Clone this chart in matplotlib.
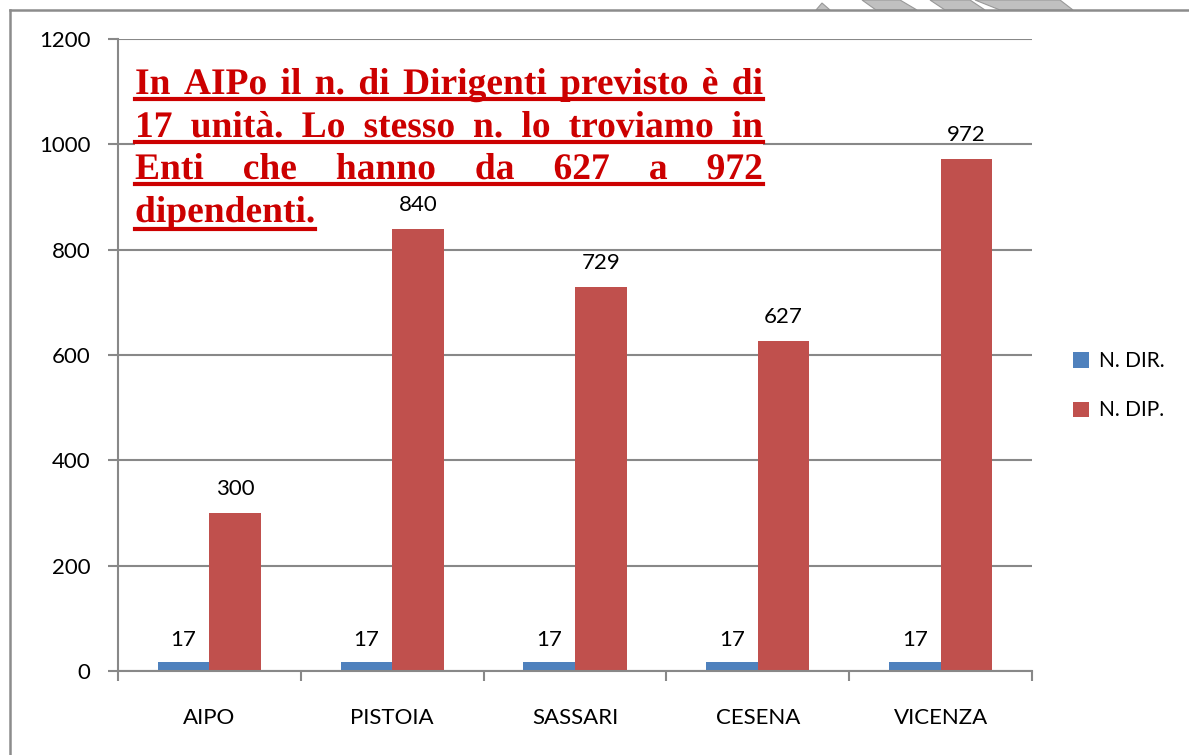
import matplotlib.pyplot as plt
import numpy as np
from matplotlib.transforms import IdentityTransform, Affine2D
from matplotlib.patches import Rectangle, Polygon
from matplotlib.lines import Line2D
from matplotlib.patheffects import AbstractPathEffect

categories = ["AIPO", "PISTOIA", "SASSARI", "CESENA", "VICENZA"]
n_dir = [17, 17, 17, 17, 17]
n_dip = [300, 840, 729, 627, 972]
series_names = ["N. DIR.", "N. DIP."]
yticks = [0, 200, 400, 600, 800, 1000, 1200]

title_lines = [
    "In AIPo il n. di Dirigenti previsto è di",
    "17 unità. Lo stesso n. lo troviamo in",
    "Enti che hanno da 627 a 972",
    "dipendenti.",
]

BLUE = "#4F81BD"
RED = "#C0504D"
GRID = "#888888"
TXT_RED = "#CC0000"

W, H = 1189, 755
plt.rcParams['font.family'] = ['Lato', 'DejaVu Sans']


class HStretch(AbstractPathEffect):
    # squeeze text horizontally around its own origin
    def __init__(self, sx):
        super().__init__()
        self.sx = sx

    def draw_path(self, renderer, gc, tpath, affine, rgbFace=None):
        ox = affine.transform((0, 0))[0]
        aff = affine + Affine2D().translate(-ox, 0).scale(self.sx, 1).translate(ox, 0)
        renderer.draw_path(gc, tpath, aff, rgbFace)


fig = plt.figure(figsize=(W / 100, H / 100), dpi=100)
fig.patch.set_facecolor("white")

# plot area in pixels
px_l, px_r, px_t, px_b = 118, 1032, 39, 671
ax = fig.add_axes([px_l / W, (H - px_b) / H, (px_r - px_l) / W, (px_b - px_t) / H])

x = np.arange(len(categories))
bw = 0.282
ax.bar(x - bw / 2, n_dir, bw, color=BLUE, label=series_names[0], zorder=3)
ax.bar(x + bw / 2, n_dip, bw, color=RED, label=series_names[1], zorder=3)

for xi, v in zip(x, n_dir):
    ax.text(xi - bw / 2, v + 22, str(v), ha="center", va="bottom", fontsize=16, zorder=6)
for xi, v in zip(x, n_dip):
    ax.text(xi + bw / 2, v + 26, str(v), ha="center", va="bottom", fontsize=16, zorder=6)

ax.set_xlim(-0.5, len(categories) - 0.5)
ax.set_ylim(0, 1200)
ax.set_yticks(yticks)
ax.set_yticklabels([str(t) for t in yticks], fontsize=16)
ax.set_xticks(x)
ax.set_xticklabels(categories, fontsize=16)
ax.set_xticks(np.arange(-0.5, len(categories)), minor=True)
ax.tick_params(axis="x", which="major", length=0, pad=27)
ax.tick_params(axis="x", which="minor", length=7, width=1.5, color=GRID, direction="out")
ax.tick_params(axis="y", length=7, width=1.5, color=GRID, pad=13)
ax.yaxis.grid(True, color=GRID, linewidth=1.5, zorder=0)
ax.set_axisbelow(True)
for s in ["top", "right"]:
    ax.spines[s].set_visible(False)
for s in ["left", "bottom"]:
    ax.spines[s].set_color(GRID)
    ax.spines[s].set_linewidth(1.5)
    ax.spines[s].set_zorder(4)

ax.legend(loc="upper left", bbox_to_anchor=(1065 / W, (H - 343) / H), bbox_transform=fig.transFigure,
          frameon=False, fontsize=15, handlelength=0.75, handleheight=0.75, labelspacing=1.4,
          handletextpad=0.5, borderaxespad=0)

# outer frame
fig.add_artist(Line2D([10, 10], [0, H - 10], transform=IdentityTransform(), color="#8c8c8c", linewidth=1.8))
fig.add_artist(Line2D([10, W], [H - 10, H - 10], transform=IdentityTransform(), color="#8c8c8c", linewidth=1.8))
# decorative shapes above the top border
deco = [
    [(816, 10), (822, 3), (830, 10)],
    [(862, 0), (900, 0), (917, 10), (876, 10)],
    [(930, 0), (970, 0), (985, 10), (945, 10)],
    [(975, 0), (1060, 0), (1073, 10), (1000, 10)],
]
for poly in deco:
    fig.add_artist(Polygon([(a, H - b) for a, b in poly], closed=True, transform=IdentityTransform(),
                           facecolor="#c0c0c0", edgecolor="#999999", linewidth=0.8))

# white box behind the note (covers gridlines, not the bars)
ax.add_patch(Rectangle((135, H - 234), 628, 174, transform=IdentityTransform(),
                       facecolor="white", edgecolor="none", zorder=1, clip_on=False))

# justified, underlined note
fig.canvas.draw()
renderer = fig.canvas.get_renderer()
tx_l, tx_r = 135, 763
fs = 27
probe = fig.text(0, 0, title_lines[0], fontsize=fs, family="Liberation Serif", weight="bold")
sx = min(1.0, (tx_r - tx_l) / probe.get_window_extent(renderer).width)
probe.remove()
squeeze = HStretch(sx)

baselines = [94, 137, 179, 222]
ulines = [99, 142, 184, 229]
for i, (line, by, uy) in enumerate(zip(title_lines, baselines, ulines)):
    words = line.split(" ")
    arts = [fig.text(0, H - by, w, fontsize=fs, family="Liberation Serif", weight="bold",
                     color=TXT_RED, va="baseline", ha="left", transform=IdentityTransform(),
                     zorder=6, path_effects=[squeeze])
            for w in words]
    widths = [a.get_window_extent(renderer).width * sx for a in arts]
    last = i == len(title_lines) - 1
    if last or len(words) == 1:
        gap = fs * 0.3 * sx
    else:
        gap = ((tx_r - tx_l) - sum(widths)) / (len(words) - 1)
    xpos = tx_l
    for a, w in zip(arts, widths):
        a.set_x(xpos)
        xpos += w + gap
    end = tx_r if not last else tx_l + sum(widths) + gap * (len(words) - 1)
    fig.add_artist(Line2D([tx_l, end], [H - uy, H - uy], transform=IdentityTransform(),
                          color=TXT_RED, linewidth=3.0, zorder=6))

fig.savefig("out.png", dpi=100, facecolor="white")
